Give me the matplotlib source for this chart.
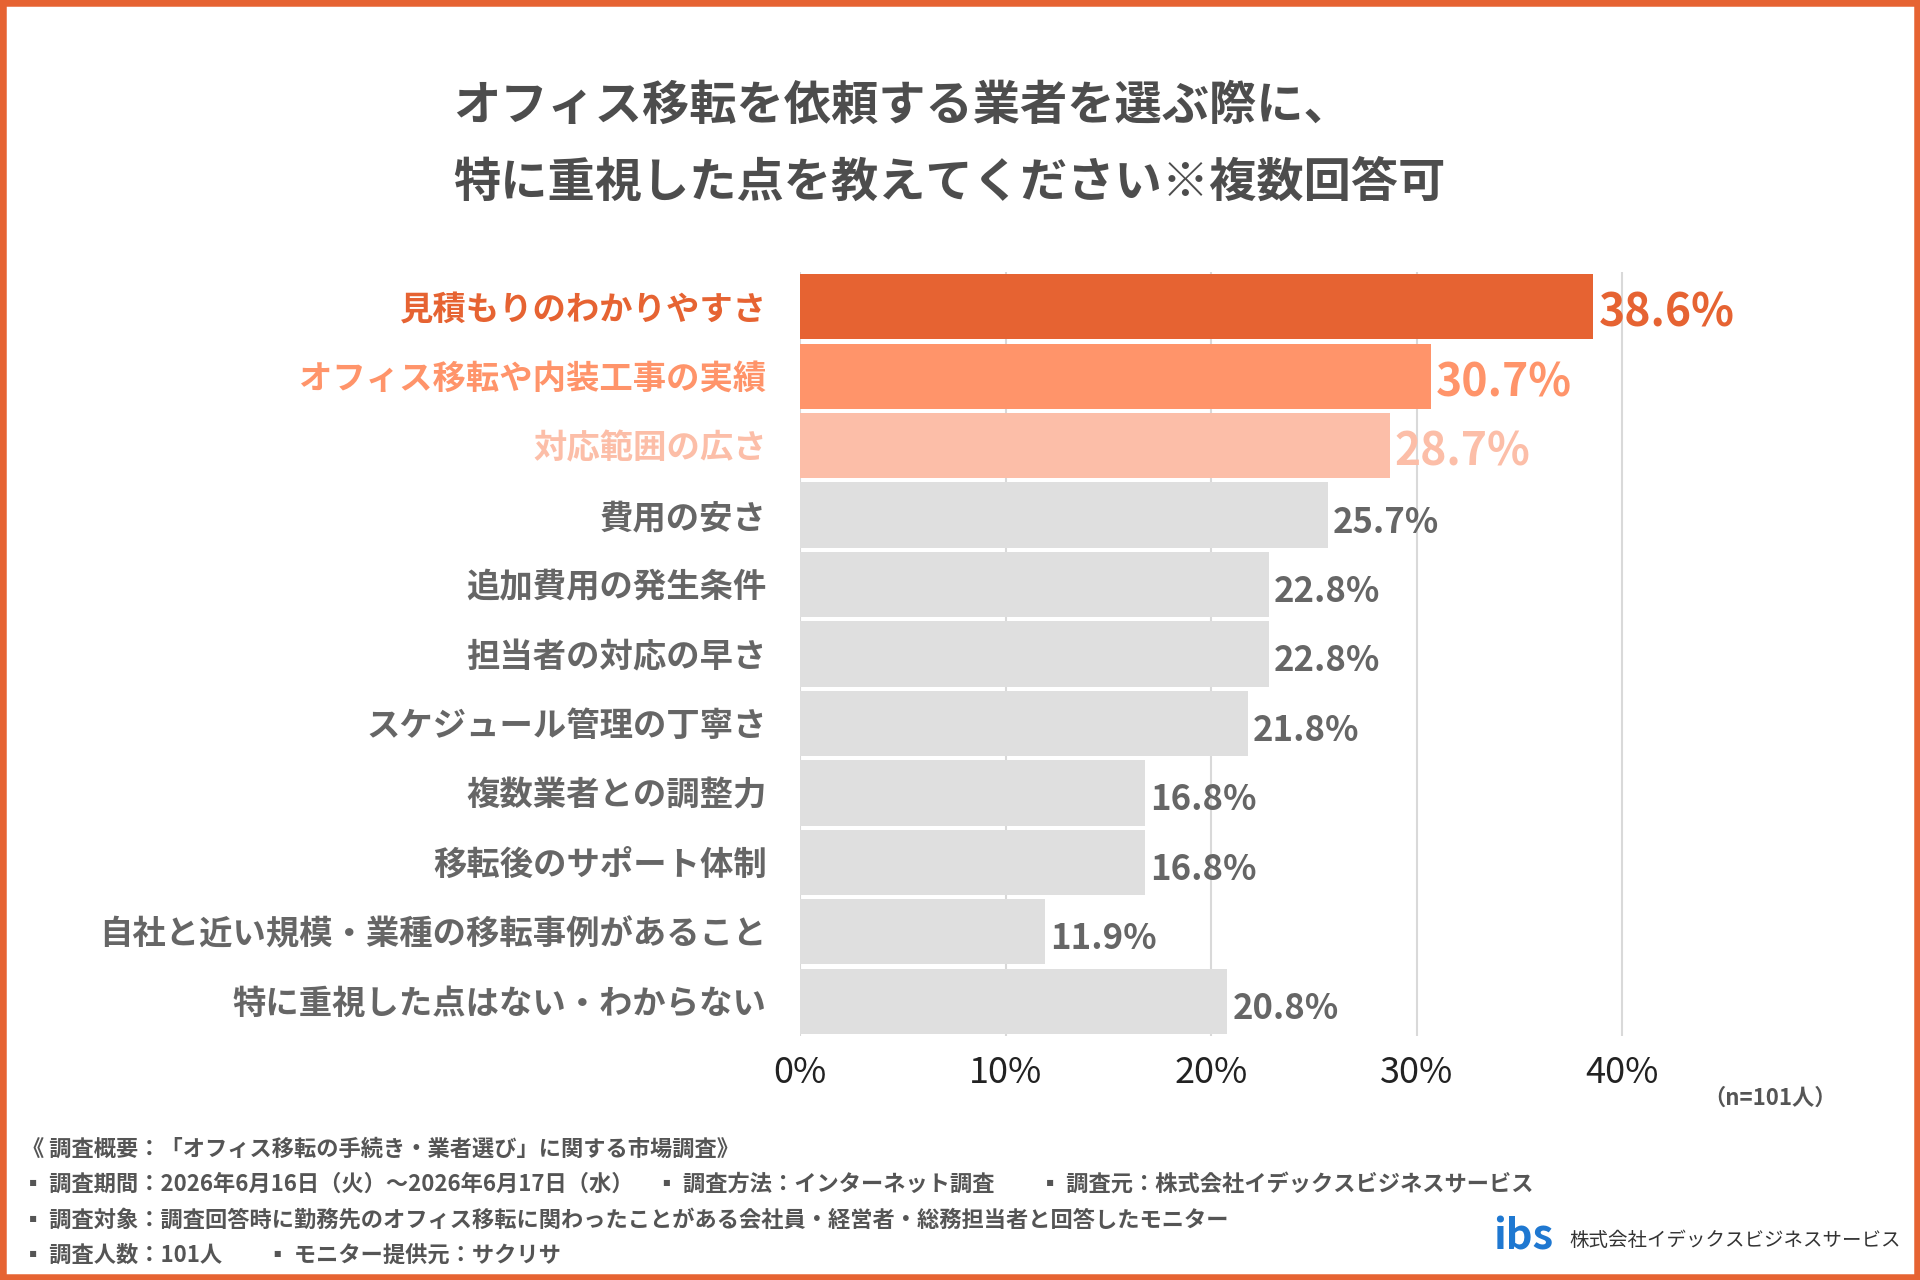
import matplotlib
matplotlib.use("Agg")
import matplotlib.pyplot as plt
import matplotlib.transforms as mtransforms
from matplotlib.patches import Rectangle

plt.rcParams['font.family'] = ['Noto Sans CJK JP', 'DejaVu Sans']

title_lines = ["オフィス移転を依頼する業者を選ぶ際に、", "特に重視した点を教えてください※複数回答可"]
categories = ["見積もりのわかりやすさ", "オフィス移転や内装工事の実績", "対応範囲の広さ", "費用の安さ",
              "追加費用の発生条件", "担当者の対応の早さ", "スケジュール管理の丁寧さ", "複数業者との調整力",
              "移転後のサポート体制", "自社と近い規模・業種の移転事例があること", "特に重視した点はない・わからない"]
values = [38.6, 30.7, 28.7, 25.7, 22.8, 22.8, 21.8, 16.8, 16.8, 11.9, 20.8]
xticks = [0, 10, 20, 30, 40]
xtick_labels = ["0%", "10%", "20%", "30%", "40%"]
footnotes = [
    "《 調査概要：「オフィス移転の手続き・業者選び」に関する市場調査》",
    "▪ 調査期間：2026年6月16日（火）～2026年6月17日（水）　▪ 調査方法：インターネット調査　　▪ 調査元：株式会社イデックスビジネスサービス",
    "▪ 調査対象：調査回答時に勤務先のオフィス移転に関わったことがある会社員・経営者・総務担当者と回答したモニター",
    "▪ 調査人数：101人　　▪ モニター提供元：サクリサ",
]
n_note = "（n=101人）"
company = "株式会社イデックスビジネスサービス"

ORANGE = "#E66332"
bar_colors = [ORANGE, "#FF946A", "#FCBEA8"] + ["#DFDFDF"] * 8
label_colors = [ORANGE, "#FF946A", "#FCBEA8"] + ["#666666"] * 8
GRAY = "#555555"

W, H = 1920, 1280
fig = plt.figure(figsize=(W / 100, H / 100), dpi=100)
fig.patch.set_facecolor("white")

# frame
fig.patches.append(Rectangle((0, 0), 1, 1, transform=fig.transFigure, fill=False,
                             edgecolor=ORANGE, linewidth=9, zorder=10))

# title
fig.text(453 / W, 1 - 106 / H, title_lines[0], fontsize=34, fontweight="bold", color="#4D4D4D",
         ha="left", va="center")
fig.text(453 / W, 1 - 183 / H, title_lines[1], fontsize=34, fontweight="bold", color="#4D4D4D",
         ha="left", va="center")

ax = fig.add_axes([800 / W, 1 - 1036 / H, 1027.5 / W, (1036 - 272) / H])
y = list(range(len(categories)))
ax.barh(y, values, height=0.94, color=bar_colors, zorder=2)
ax.set_ylim(len(categories) - 0.5, -0.5)
ax.set_xlim(0, 50)
ax.set_xticks(xticks)
ax.set_xticklabels(xtick_labels, fontsize=26, color="#222222")
ax.set_yticks(y)
ax.set_yticklabels(categories, fontsize=24, fontweight="bold")
shift = mtransforms.ScaledTranslation(0, -4 / 100, fig.dpi_scale_trans)
for t, c in zip(ax.get_yticklabels(), label_colors):
    t.set_color(c)
    t.set_transform(t.get_transform() + shift)
ax.tick_params(axis="y", length=0, pad=24)
ax.tick_params(axis="x", length=0, pad=14)
for s in ax.spines.values():
    s.set_visible(False)
ax.xaxis.grid(True, color="#D9D9D9", linewidth=1.5, zorder=0)
ax.set_axisbelow(True)

for i, v in enumerate(values):
    big = i < 3
    ax.text(v + 0.25, i + 0.1, f"{v:.1f}%", fontsize=32 if big else 25, fontweight="bold",
            color=label_colors[i], ha="left", va="center", zorder=3)

fig.text(1770 / W, 1 - 1098 / H, n_note, fontsize=16, fontweight="bold", color=GRAY,
         ha="center", va="center")

ys = [1149, 1184, 1220, 1255]
for line, yy in zip(footnotes, ys):
    fig.text(22 / W, 1 - yy / H, line, fontsize=16, fontweight="bold", color=GRAY,
             ha="left", va="center")

# logo
fig.text(1493 / W, 1 - 1238 / H, "ibs", fontsize=30, fontweight="bold", color="#1F78D1",
         ha="left", va="center", style="italic")
fig.text(1569 / W, 1 - 1240 / H, company, fontsize=14, color="#333333", ha="left", va="center")

fig.savefig("out.png", dpi=100)
